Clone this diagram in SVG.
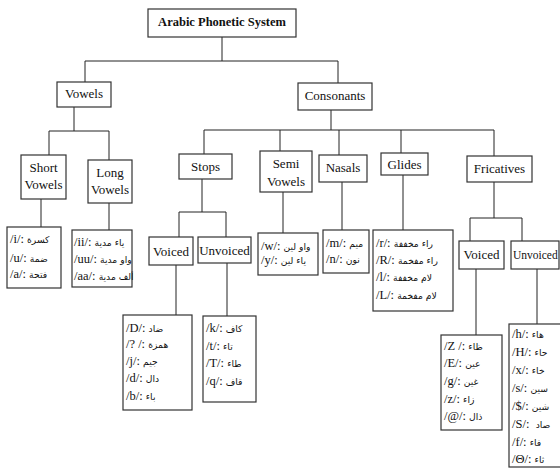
<svg xmlns="http://www.w3.org/2000/svg" width="560" height="470" viewBox="0 0 560 470">
<style>
.bg{fill:#fff}
.box{fill:#fff;stroke:#333;stroke-width:1.2}
.con{fill:none;stroke:#222;stroke-width:1}
.lbl{font-family:"Liberation Serif","Times New Roman",serif;font-size:13px;fill:#111;text-anchor:middle}
.ttl{font-family:"Liberation Serif","Times New Roman",serif;font-size:12.5px;font-weight:bold;fill:#111;text-anchor:middle}
.it{font-family:"Liberation Serif","Times New Roman",serif;font-size:12.5px;fill:#111}
.ar{font-family:"DejaVu Sans",sans-serif;font-size:9.2px}
</style>
<rect class="bg" x="0" y="0" width="560" height="470"/>
<g id="connectors">
<path class="con" d="M222 37V61M85 61H338M85 61V82M338 61V83"/>
<path class="con" d="M74 107V131M49 131H109M49 131V155M109 131V160"/>
<path class="con" d="M331 110V130M204 130H494M204 130V154M280 130V151M339 130V155M401 130V153M494 130V156"/>
<path class="con" d="M41 199V227M109 203V230"/>
<path class="con" d="M202 179V212M179 212H226M179 212V237M226 212V237M176 265V315M227 263V316"/>
<path class="con" d="M283 192V233M342 182V230M403 175V230"/>
<path class="con" d="M494 182V218M470 218H522M470 218V241M522 218V241M476 269V335M537 269V324"/>
</g>
<g id="title"><rect class="box" x="148" y="9" width="148" height="28"/><text class="ttl" x="222" y="26">Arabic Phonetic System</text></g>
<g id="vowels"><rect class="box" x="57" y="82" width="54" height="25"/><text class="lbl" x="84" y="98">Vowels</text></g>
<g id="consonants"><rect class="box" x="298" y="83" width="74" height="27"/><text class="lbl" x="335" y="100">Consonants</text></g>
<g id="short-vowels"><rect class="box" x="21" y="155" width="45" height="44"/><text class="lbl" x="43.5" y="172">Short</text><text class="lbl" x="43.5" y="189">Vowels</text></g>
<g id="long-vowels"><rect class="box" x="88" y="160" width="44" height="43"/><text class="lbl" x="110" y="177">Long</text><text class="lbl" x="110" y="194">Vowels</text></g>
<g id="short-list"><rect class="box" x="7" y="227" width="54" height="61"/>
<text class="it" x="10" y="243">/i/: <tspan class="ar">كسرة</tspan></text>
<text class="it" x="10" y="262">/u/: <tspan class="ar">ضمة</tspan></text>
<text class="it" x="10" y="278">/a/: <tspan class="ar">فتحة</tspan></text></g>
<g id="long-list"><rect class="box" x="72" y="230" width="60" height="57"/>
<text class="it" x="74" y="246">/ii/: <tspan class="ar">ياء مدية</tspan></text>
<text class="it" x="74" y="263">/uu/: <tspan class="ar">واو مدية</tspan></text>
<text class="it" x="74" y="280">/aa/: <tspan class="ar">ألف مدية</tspan></text></g>
<g id="stops"><rect class="box" x="179" y="154" width="53" height="25"/><text class="lbl" x="205.5" y="171">Stops</text></g>
<g id="semi-vowels"><rect class="box" x="260" y="151" width="52" height="41"/><text class="lbl" x="286" y="168">Semi</text><text class="lbl" x="286" y="186">Vowels</text></g>
<g id="nasals"><rect class="box" x="319" y="155" width="48" height="27"/><text class="lbl" x="343" y="172">Nasals</text></g>
<g id="glides"><rect class="box" x="381" y="153" width="47" height="22"/><text class="lbl" x="404.5" y="169">Glides</text></g>
<g id="fricatives"><rect class="box" x="467" y="156" width="65" height="26"/><text class="lbl" x="499.5" y="173">Fricatives</text></g>
<g id="stops-voiced"><rect class="box" x="149" y="237" width="44" height="28"/><text class="lbl" x="171" y="256">Voiced</text></g>
<g id="stops-unvoiced"><rect class="box" x="198" y="237" width="53" height="26"/><text class="lbl" x="224.5" y="255">Unvoiced</text></g>
<g id="semi-list"><rect class="box" x="258" y="233" width="60" height="42"/>
<text class="it" x="261" y="250">/w/: <tspan class="ar">واو لين</tspan></text>
<text class="it" x="261" y="264">/y/: <tspan class="ar">ياء لين</tspan></text></g>
<g id="nasal-list"><rect class="box" x="323" y="230" width="46" height="43"/>
<text class="it" x="326" y="247">/m/: <tspan class="ar">ميم</tspan></text>
<text class="it" x="326" y="263">/n/: <tspan class="ar">نون</tspan></text></g>
<g id="glide-list"><rect class="box" x="373" y="230" width="80" height="81"/>
<text class="it" x="376" y="247">/r/: <tspan class="ar">راء مخففة</tspan></text>
<text class="it" x="376" y="264">/R/: <tspan class="ar">راء مفخمة</tspan></text>
<text class="it" x="376" y="281">/l/: <tspan class="ar">لام مخففة</tspan></text>
<text class="it" x="376" y="299">/L/: <tspan class="ar">لام مفخمة</tspan></text></g>
<g id="fric-voiced"><rect class="box" x="459" y="241" width="45" height="28"/><text class="lbl" x="481.5" y="259">Voiced</text></g>
<g id="fric-unvoiced"><rect class="box" x="511" y="241" width="48" height="28"/><text class="lbl" x="513" y="259" style="text-anchor:start;font-size:11.5px">Unvoiced</text></g>
<g id="stops-voiced-list"><rect class="box" x="123" y="315" width="69" height="95"/>
<text class="it" x="126" y="332">/D/: <tspan class="ar">ضاد</tspan></text>
<text class="it" x="126" y="348">/? /: <tspan class="ar">همزة</tspan></text>
<text class="it" x="126" y="365">/j/: <tspan class="ar">جيم</tspan></text>
<text class="it" x="126" y="382">/d/: <tspan class="ar">دال</tspan></text>
<text class="it" x="126" y="400">/b/: <tspan class="ar">باء</tspan></text></g>
<g id="stops-unvoiced-list"><rect class="box" x="203" y="316" width="53" height="86"/>
<text class="it" x="206" y="332">/k/: <tspan class="ar">كاف</tspan></text>
<text class="it" x="206" y="350">/t/: <tspan class="ar">تاء</tspan></text>
<text class="it" x="206" y="367">/T/: <tspan class="ar">طاء</tspan></text>
<text class="it" x="206" y="385">/q/: <tspan class="ar">قاف</tspan></text></g>
<g id="fric-voiced-list"><rect class="box" x="441" y="335" width="61" height="95"/>
<text class="it" x="444" y="350">/Z /: <tspan class="ar">ظاء</tspan></text>
<text class="it" x="444" y="367">/E/: <tspan class="ar">عين</tspan></text>
<text class="it" x="444" y="385">/g/: <tspan class="ar">غين</tspan></text>
<text class="it" x="444" y="403">/z/: <tspan class="ar">زاء</tspan></text>
<text class="it" x="444" y="420">/@/: <tspan class="ar">ذال</tspan></text></g>
<g id="fric-unvoiced-list"><rect class="box" x="509" y="324" width="56" height="143"/>
<text class="it" x="512" y="338">/h/: <tspan class="ar">هاء</tspan></text>
<text class="it" x="512" y="356">/H/: <tspan class="ar">حاء</tspan></text>
<text class="it" x="512" y="374">/x/: <tspan class="ar">خاء</tspan></text>
<text class="it" x="512" y="392">/s/: <tspan class="ar">سين</tspan></text>
<text class="it" x="512" y="410">/$/: <tspan class="ar">شين</tspan></text>
<text class="it" x="512" y="428" xml:space="preserve">/S/:  <tspan class="ar">صاد</tspan></text>
<text class="it" x="512" y="446">/f/: <tspan class="ar">فاء</tspan></text>
<text class="it" x="512" y="463">/Θ/: <tspan class="ar">ثاء</tspan></text></g>
</svg>
